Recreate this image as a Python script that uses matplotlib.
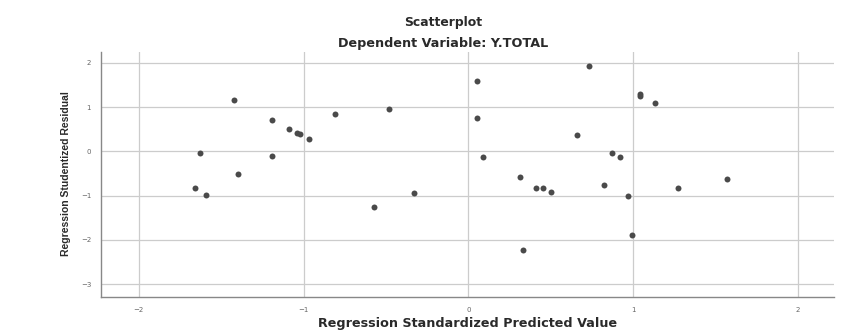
import numpy as np
import matplotlib.pyplot as plt

# predicted value (x) and studentized residual (y)
pred = [-1.42, -1.63, -1.66, -1.59, -1.40, -1.19, -1.19, -1.09, -1.04, -1.02,
        -0.97, -0.81, -0.48, -0.57, -0.33,
        0.05, 0.05, 0.09, 0.31, 0.41, 0.45, 0.50, 0.33, 0.73, 0.66,
        0.82, 0.87, 0.92, 0.97, 0.99, 1.04, 1.04, 1.13, 1.27, 1.57]
resid = [1.16, -0.05, -0.82, -0.99, -0.52, 0.71, -0.11, 0.51, 0.42, 0.38,
         0.28, 0.84, 0.95, -1.27, -0.94,
         1.58, 0.76, -0.14, -0.57, -0.83, -0.84, -0.91, -2.24, 1.92, 0.36,
         -0.76, -0.04, -0.14, -1.02, -1.89, 1.30, 1.24, 1.08, -0.82, -0.63]
xticks = [-2, -1, 0, 1, 2]
yticks = [-3, -2, -1, 0, 1, 2]

plt.rcParams['font.family'] = ['DejaVu Sans']

fig = plt.figure(figsize=(8.62, 3.34), dpi=100)
ax = fig.add_axes([0.117, 0.111, 0.851, 0.733])

ax.plot(pred, resid, 'o', color='#4a4a4a', markersize=4.3, markeredgewidth=0)

ax.set_xlim(-2.23, 2.22)
ax.set_ylim(-3.29, 2.24)
ax.set_xticks(xticks)
ax.set_yticks(yticks)
ax.grid(True, color='#cccccc', linewidth=0.9)
ax.set_axisbelow(True)
ax.tick_params(length=0, labelsize=5, labelcolor='#666666', pad=7)

for s in ['top', 'right']:
    ax.spines[s].set_visible(False)
for s in ['left', 'bottom']:
    ax.spines[s].set_color('#888888')
    ax.spines[s].set_linewidth(1.0)

# axis titles
fig.text(0.542, 0.03, 'Regression Standardized Predicted Value', ha='center',
         va='center', fontsize=9.2, fontweight='bold', color='#2a2a2a')
fig.text(0.077, 0.48, 'Regression Studentized Residual', ha='center',
         va='center', rotation=90, fontsize=7.5, fontweight='bold',
         color='#2a2a2a', family='Liberation Sans')

fig.text(0.514, 0.934, 'Scatterplot', ha='center', va='center',
         fontsize=8.9, fontweight='bold', color='#2a2a2a')
fig.text(0.514, 0.871, 'Dependent Variable: Y.TOTAL', ha='center', va='center',
         fontsize=9.2, fontweight='bold', color='#2a2a2a')

plt.savefig('out.png', dpi=100)
